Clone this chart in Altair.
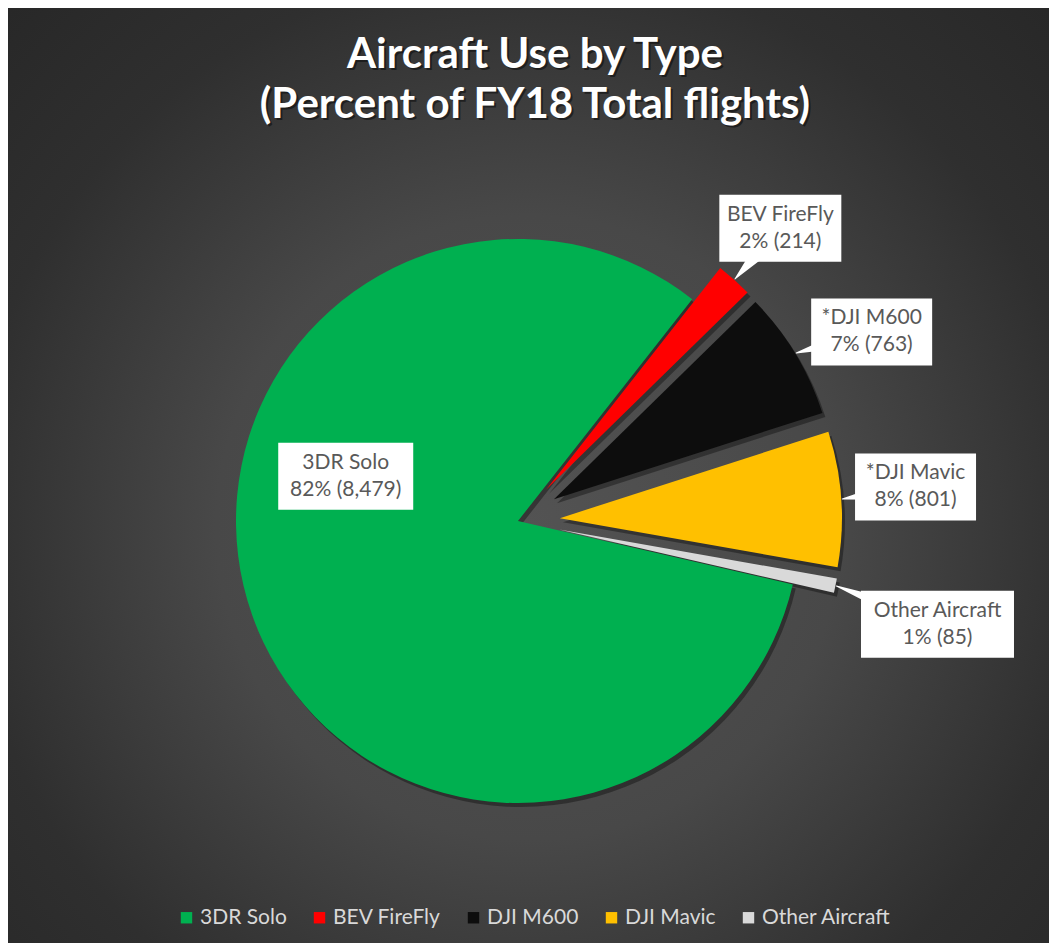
import math
import altair as alt
import pandas as pd

# ---------------- data ----------------
CATEGORIES = ["3DR Solo", "BEV FireFly", "DJI M600", "DJI Mavic", "Other Aircraft"]
LABEL_NAMES = ["3DR Solo", "BEV FireFly", "*DJI M600", "*DJI Mavic", "Other Aircraft"]
FLIGHTS = [8479, 214, 763, 801, 85]
COLORS = ["#00B050", "#FF0000", "#0D0D0D", "#FFC000", "#D9D9D9"]
TITLE_LINES = ["Aircraft Use by Type", "(Percent of FY18 Total flights)"]

# ---------------- styles ----------------
W, H = 1041, 935
CX, CY = 510, 513
R = 282
START_DEG = 103
EXPLODE = [0, 42, 42, 42, 42]
LABEL_RADIUS = [178, 393, 401, 399, 432]
LABEL_NUDGE_DEG = [34, 0, 3, -1, 2.3]
BOX_W = [135, 122, 121, 121, 153]
BOX_H = 67
FONT = "Lato"
LABEL_SIZE = 21
LINE_H = 27

start = math.radians(START_DEG)

df = pd.DataFrame({
    "idx": list(range(len(CATEGORIES))),
    "category": CATEGORIES,
    "name": LABEL_NAMES,
    "flights": FLIGHTS,
    "explode": EXPLODE,
    "lr": LABEL_RADIUS,
    "nudge": LABEL_NUDGE_DEG,
    "bw": BOX_W,
})

base = (
    alt.Chart(df)
    .transform_joinaggregate(total="sum(flights)")
    .transform_window(cum="sum(flights)", sort=[alt.SortField("idx")], frame=[None, 0])
    .transform_calculate(mid=f"{start} + 2*PI*(datum.cum - datum.flights/2)/datum.total")
    .transform_calculate(
        cx=f"{CX} + datum.explode*sin(datum.mid)",
        cy=f"{CY} - datum.explode*cos(datum.mid)",
        la="datum.mid + datum.nudge*PI/180",
    )
    .transform_calculate(
        labx=f"{CX} + datum.lr*sin(datum.la)",
        laby=f"{CY} - datum.lr*cos(datum.la)",
        tipx=f"datum.cx + {R + 1}*sin(datum.mid)",
        tipy=f"datum.cy - {R + 1}*cos(datum.mid)",
        line2="format(datum.flights/datum.total, '.0%') + ' (' + format(datum.flights, ',') + ')'",
    )
)

theta_enc = alt.Theta("flights:Q", stack=True,
                      scale=alt.Scale(range=[start, start + 2 * math.pi]))
x_enc = alt.X("cx:Q", scale=None, axis=None, stack=False)
y_enc = alt.Y("cy:Q", scale=None, axis=None, stack=False)

# background
bg = alt.Chart(pd.DataFrame({"a": [1]})).mark_rect(
    color=alt.RadialGradient(
        gradient="radial",
        stops=[
            alt.GradientStop(offset=0, color="#535353"),
            alt.GradientStop(offset=0.4, color="#484848"),
            alt.GradientStop(offset=0.72, color="#2f2f2f"),
            alt.GradientStop(offset=1, color="#262626"),
        ],
        x1=0.5, y1=0.55, x2=0.5, y2=0.55, r1=0, r2=0.75,
    )
).encode(x=alt.value(0), x2=alt.value(W), y=alt.value(0), y2=alt.value(H))

shadow = base.mark_arc(radius=R, color="black", opacity=0.35, xOffset=3, yOffset=4).encode(
    theta=theta_enc, order=alt.Order("idx:Q"), x=x_enc, y=y_enc
)

arcs = base.mark_arc(radius=R).encode(
    theta=theta_enc,
    order=alt.Order("idx:Q"),
    x=x_enc,
    y=y_enc,
    color=alt.Color(
        "category:N",
        scale=alt.Scale(domain=CATEGORIES, range=COLORS),
        legend=alt.Legend(
            orient="none", legendX=168, legendY=899, direction="horizontal",
            title=None, symbolType="square", symbolSize=130, symbolStrokeWidth=0,
            labelFont=FONT, labelFontSize=LABEL_SIZE, labelColor="#D9D9D9",
            columnPadding=22, labelOffset=3,
        ),
    ),
)

callouts = (
    base.transform_filter("datum.idx > 0")
    .transform_fold(["tipx", "labx"], as_=["end", "px"])
    .transform_calculate(
        py="datum.end == 'tipx' ? datum.tipy : datum.laby",
        w="datum.end == 'tipx' ? 0 : 26",
    )
    .mark_trail(color="white")
    .encode(
        x=alt.X("px:Q", scale=None, axis=None, stack=False),
        y=alt.Y("py:Q", scale=None, axis=None, stack=False),
        size=alt.Size("w:Q", scale=None, legend=None),
        detail="category:N",
        order=alt.Order("w:Q"),
    )
)

boxes = (
    base.transform_calculate(
        bx0="datum.labx - datum.bw/2",
        bx1="datum.labx + datum.bw/2",
        by0=f"datum.laby - {BOX_H / 2}",
        by1=f"datum.laby + {BOX_H / 2}",
    )
    .mark_rect(fill="white")
    .encode(
        x=alt.X("bx0:Q", scale=None, axis=None),
        x2="bx1:Q",
        y=alt.Y("by0:Q", scale=None, axis=None),
        y2="by1:Q",
    )
)

texts = (
    base.transform_calculate(lines="[datum.name, datum.line2]")
    .mark_text(font=FONT, fontSize=LABEL_SIZE, color="#595959", lineHeight=LINE_H,
               baseline="middle", align="center", dy=-LINE_H / 2)
    .encode(
        x=alt.X("labx:Q", scale=None, axis=None),
        y=alt.Y("laby:Q", scale=None, axis=None),
        text=alt.Text("lines:N"),
    )
)

tdata = pd.DataFrame({"a": [1]})
title_shadow = alt.Chart(tdata).mark_text(
    text=TITLE_LINES, font=FONT, fontSize=42, fontWeight="bold", color="black",
    opacity=0.45, lineHeight=50, align="center", baseline="middle", dx=2, dy=2,
).encode(x=alt.value(527), y=alt.value(47))
title = alt.Chart(tdata).mark_text(
    text=TITLE_LINES, font=FONT, fontSize=42, fontWeight="bold", color="white",
    lineHeight=50, align="center", baseline="middle",
).encode(x=alt.value(527), y=alt.value(47))

chart = (
    alt.layer(bg, shadow, arcs, callouts, boxes, texts, title_shadow, title)
    .properties(width=W, height=H, padding=0, background="#2a2a2a")
    .configure_view(stroke=None)
)

chart.save("out.html", embed_options={"renderer": "svg", "actions": False})
